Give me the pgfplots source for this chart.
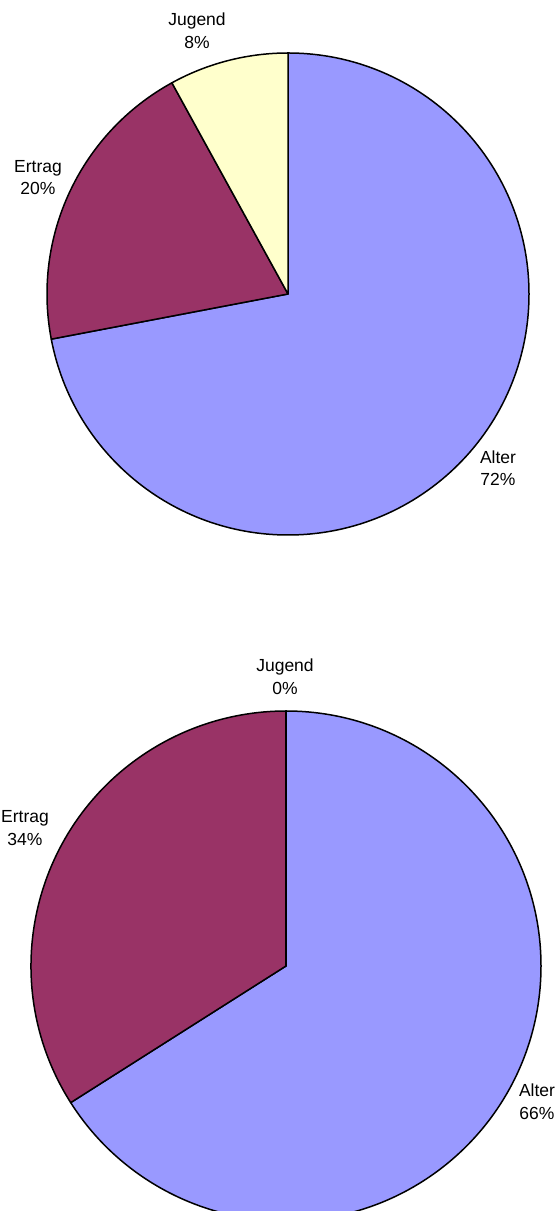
\documentclass[border=0pt]{standalone}
\usepackage{fontspec}
\setmainfont{Liberation Sans}
\usepackage{pgfplots}
\usepackage{pgfplotstable}
\pgfplotsset{compat=1.18}

% slice colours, in row order of the tables
\definecolor{slice0}{HTML}{9999FF}
\definecolor{slice1}{HTML}{993366}
\definecolor{slice2}{HTML}{FFFFCC}

% shares in percent
\pgfplotstableread{
name   share
Alter  72
Ertrag 20
Jugend 8
}\upperpie

\pgfplotstableread{
name   share
Alter  66
Ertrag 34
Jugend 0
}\lowerpie

% #1 table, #2/#3 centre, #4 radius (pt); slices run clockwise from 12 o'clock
\newcommand\drawpie[4]{%
  \gdef\pieangle{90}%
  \pgfplotsforeachungrouped \i in {0,1,2}{%
    \pgfplotstablegetelem{\i}{share}\of{#1}\let\pieshare\pgfplotsretval
    \pgfmathsetmacro\pieend{\pieangle-3.6*\pieshare}%
    \edef\pieslice{\noexpand\filldraw[fill=slice\i, draw=black,
        line width=1.5pt, line join=round]
      (axis cs:#2,#3) -- ++(\pieangle:#4pt)
      arc[start angle=\pieangle, end angle=\pieend, radius=#4pt] -- cycle;}%
    \pieslice
    \global\let\pieangle\pieend
  }%
}

\tikzset{pielabel/.style={align=center, inner sep=0pt,
    font=\fontsize{17.5}{22.5}\selectfont}}

\begin{document}
\begin{tikzpicture}
\begin{axis}[
  x=1pt, y=1pt,
  xmin=0, xmax=558, ymin=0, ymax=1211,
  hide axis, clip=true,
  at={(0,0)}, anchor=south west,
]
  \drawpie{\upperpie}{288}{917}{241}
  \drawpie{\lowerpie}{286}{245}{255}

  \node[pielabel] at (axis cs:197,1180) {Jugend\\8\%};
  \node[pielabel] at (axis cs:38,1033.5) {Ertrag\\20\%};
  \node[pielabel] at (axis cs:498,743) {Alter\\72\%};

  \node[pielabel] at (axis cs:285,534.5) {Jugend\\0\%};
  \node[pielabel] at (axis cs:25,383) {Ertrag\\34\%};
  \node[pielabel] at (axis cs:537,109.5) {Alter\\66\%};
\end{axis}
\pgfresetboundingbox
\useasboundingbox (0,0) rectangle (558pt,1211pt);
\end{tikzpicture}
\end{document}
